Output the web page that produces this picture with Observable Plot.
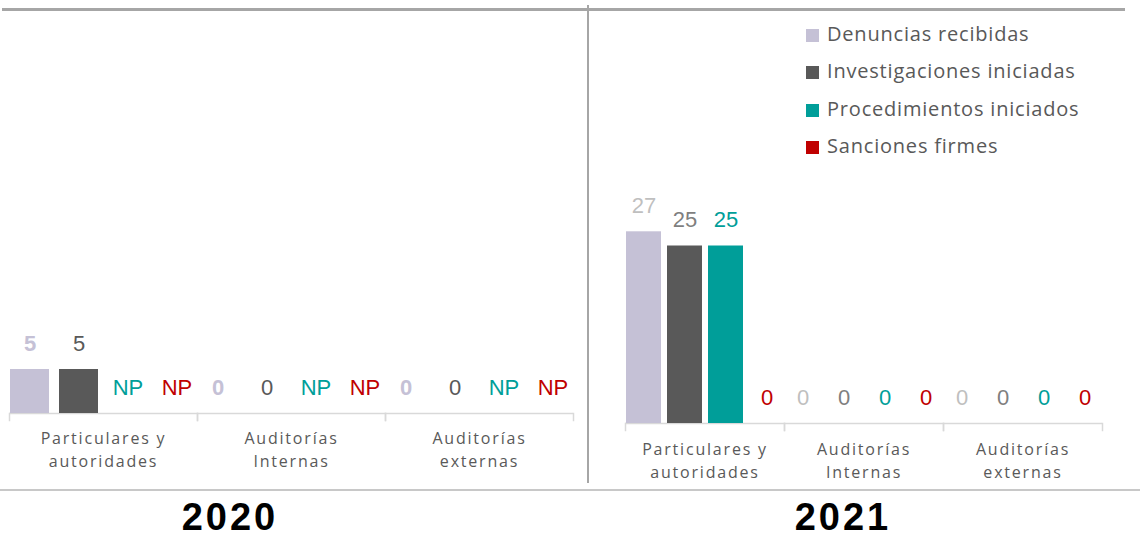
<!DOCTYPE html>
<html><head><meta charset="utf-8">
<script src="https://cdn.jsdelivr.net/npm/d3@7"></script>
<script src="https://cdn.jsdelivr.net/npm/@observablehq/plot@0.6"></script>
<style>
html,body{margin:0;padding:0;background:#fff;}
#chart{position:relative;width:1140px;height:537px;overflow:hidden;font-family:"Open Sans", Lato, sans-serif;}
.panel{position:absolute;top:0;}
.hline,.vline{position:absolute;}
.legend{position:absolute;left:806px;top:0;}
.legend .row{position:absolute;left:0;white-space:nowrap;font-size:20px;color:#595959;letter-spacing:0.8px;height:24px;line-height:24px;}
.legend .sw{display:inline-block;width:13px;height:13px;margin-right:8px;vertical-align:-1px;}
.year{position:absolute;top:496px;width:200px;text-align:center;font-family:"Liberation Sans", Arial, sans-serif;font-weight:bold;font-size:38px;letter-spacing:3px;color:#000;}
</style></head><body><div id="chart"></div>
<script>
// ---- data ----
const categories = ["Particulares y\nautoridades", "Auditorías\nInternas", "Auditorías\nexternas"];
const series = ["Denuncias recibidas", "Investigaciones iniciadas", "Procedimientos iniciados", "Sanciones firmes"];
const years = ["2020", "2021"];
const values2020 = [[5, 5, null, null], [0, 0, null, null], [0, 0, null, null]];
const values2021 = [[27, 25, 25, 0], [0, 0, 0, 0], [0, 0, 0, 0]];
const missingLabel = "NP";

// ---- styles ----
const barColors = ["#c5c1d6", "#595959", "#009e99", "#c00000"];

const chart = document.getElementById("chart");

function panel(values, cfg) {
  const rows = [];
  categories.forEach((c, i) => series.forEach((s, j) => rows.push({cat: c, ser: s, value: values[i][j]})));
  const plotH = cfg.height - cfg.marginTop - cfg.marginBottom;
  const axisStyle = {stroke: "#d9d9d9", strokeWidth: 1.5};
  const marks = [
    Plot.ruleY([0], axisStyle),
    Plot.frame({anchor: "left", insetTop: plotH, insetBottom: -7, ...axisStyle}),
    Plot.frame({anchor: "right", insetTop: plotH, insetBottom: -7, ...axisStyle}),
    Plot.barY(rows, {fx: "cat", x: "ser", y: d => d.value ?? 0, fill: "ser"}),
    ...series.map((s, j) => Plot.text(rows.filter(d => d.ser === s), {
      fx: "cat", x: "ser", y: d => d.value ?? 0,
      text: d => d.value == null ? missingLabel : String(d.value),
      fill: cfg.labelColors[j], fontWeight: cfg.labelWeights[j],
      dy: -26, fontSize: 22, fontFamily: "Liberation Sans, Arial, sans-serif"
    })),
    Plot.text(categories, {
      fx: d => d, text: d => d, frameAnchor: "bottom", lineAnchor: "top",
      dy: cfg.catDy, fontSize: 16, lineHeight: 1.45, fill: "#595959",
      fontFamily: "Open Sans, sans-serif"
    })
  ];
  const svg = Plot.plot({
    width: cfg.width, height: cfg.height,
    marginLeft: cfg.marginLeft, marginRight: cfg.marginRight,
    marginTop: cfg.marginTop, marginBottom: cfg.marginBottom,
    fx: {domain: categories, padding: 0, axis: null},
    x: {domain: series, paddingInner: cfg.pInner, paddingOuter: 0, axis: null},
    y: {domain: [0, 40], axis: null},
    color: {domain: series, range: barColors},
    style: {background: "transparent", overflow: "visible"},
    marks
  });
  // widen letter spacing of the category labels (last text mark)
  const textGroups = d3.select(svg).selectAll('g[aria-label="text"]').nodes();
  d3.select(textGroups[textGroups.length - 1]).style("letter-spacing", "1.8px");
  const wrap = document.createElement("div");
  wrap.className = "panel";
  wrap.style.left = cfg.left + "px";
  wrap.appendChild(svg);
  chart.appendChild(wrap);
}

panel(values2020, {
  left: 0, width: 588, height: 480, marginLeft: 8, marginRight: 15,
  marginTop: 61, marginBottom: 67, pInner: 0.2, catDy: 14,
  labelColors: ["#c5c1d6", "#595959", "#009e99", "#c00000"],
  labelWeights: ["bold", "normal", "normal", "normal"]
});
panel(values2021, {
  left: 588, width: 552, height: 480, marginLeft: 36, marginRight: 38,
  marginTop: 139, marginBottom: 57, pInner: 0.157, catDy: 15,
  labelColors: ["#bfbfbf", "#7f7f7f", "#009e99", "#c00000"],
  labelWeights: ["normal", "normal", "normal", "normal"]
});

// decorative frame lines
function line(cls, l, t, w, h, c) {
  const d = document.createElement("div");
  d.className = cls;
  Object.assign(d.style, {left: l + "px", top: t + "px", width: w + "px", height: h + "px", background: c});
  chart.appendChild(d);
}
line("hline", 2, 8, 1123, 3, "#a6a6a6");
line("vline", 587, 5, 1.5, 478, "#a6a6a6");
line("hline", 0, 489, 1140, 2, "#c8c8c8");

// legend
const legend = document.createElement("div");
legend.className = "legend";
series.forEach((s, j) => {
  const r = document.createElement("div");
  r.className = "row";
  r.style.top = (22 + j * 37.4) + "px";
  r.innerHTML = `<span class="sw" style="background:${barColors[j]}"></span>${s}`;
  legend.appendChild(r);
});
chart.appendChild(legend);

// year titles
[[years[0], 130], [years[1], 743]].forEach(([y, l]) => {
  const d = document.createElement("div");
  d.className = "year";
  d.style.left = l + "px";
  d.textContent = y;
  chart.appendChild(d);
});
</script></body></html>
